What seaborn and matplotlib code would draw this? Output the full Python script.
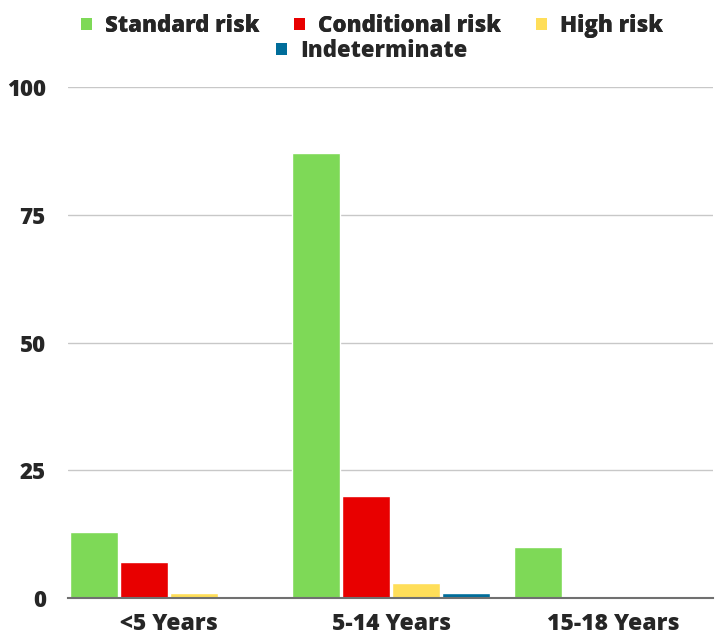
import matplotlib
matplotlib.use("Agg")
import matplotlib.pyplot as plt
import seaborn as sns
import pandas as pd
from matplotlib.patches import Patch

age_groups = ["<5 Years", "5-14 Years", "15-18 Years"]
risk_groups = ["Standard risk", "Conditional risk", "High risk", "Indeterminate"]
standard_risk = [13, 87, 10]
conditional_risk = [7, 20, 0]
high_risk = [1, 3, 0]
indeterminate = [0, 1, 0]
y_ticks = [0, 25, 50, 75, 100]

colors = ["#7ED957", "#E80000", "#FFDE59", "#006D9A"]

rows = []
for series, name in zip([standard_risk, conditional_risk, high_risk, indeterminate], risk_groups):
    for age, v in zip(age_groups, series):
        rows.append({"age": age, "risk": name, "count": v})
df = pd.DataFrame(rows)

sns.set_style("white")
plt.rcParams["font.family"] = ["Open Sans", "DejaVu Sans"]
WEIGHT = 800

fig = plt.figure(figsize=(7.25, 6.35), dpi=100)
ax = fig.add_axes([68 / 725, 1 - 598 / 635, 645 / 725, 511 / 635])

sns.barplot(data=df, x="age", y="count", hue="risk", hue_order=risk_groups,
            palette=colors, width=0.9, gap=0.04, ax=ax, legend=False,
            saturation=1)

ax.set_ylim(0, 100)
ax.set_xlim(-0.455, 2.45)
ax.set_yticks(y_ticks)
ax.set_yticklabels([str(t) for t in y_ticks], fontsize=16, fontweight=WEIGHT)
ax.set_xticks(range(len(age_groups)))
ax.set_xticklabels(age_groups, fontsize=16.5, fontweight=WEIGHT)
ax.tick_params(axis="both", length=0)
ax.tick_params(axis="y", pad=16)
ax.tick_params(axis="x", pad=10)
ax.set_xlabel("")
ax.set_ylabel("")
ax.yaxis.grid(True, color="#C8C8C8", linewidth=1)
ax.set_axisbelow(True)
for s in ["top", "right", "left"]:
    ax.spines[s].set_visible(False)
ax.spines["bottom"].set_color("#707070")
ax.spines["bottom"].set_linewidth(1.5)

handles = [Patch(facecolor=c, edgecolor="none") for c in colors]
legend_font = {"size": 16, "weight": WEIGHT}
legend_x = 372 / 725
leg1 = fig.legend(handles[:3], risk_groups[:3], loc="center", ncol=3,
                  bbox_to_anchor=(legend_x, 1 - 26 / 635), frameon=False,
                  prop=legend_font,
                  handlelength=0.5, handleheight=0.5, handletextpad=0.6,
                  columnspacing=1.55)
leg2 = fig.legend(handles[3:], risk_groups[3:], loc="center", ncol=1,
                  bbox_to_anchor=(legend_x, 1 - 51 / 635), frameon=False,
                  prop=legend_font,
                  handlelength=0.5, handleheight=0.5, handletextpad=0.6)
fig.add_artist(leg1)

fig.savefig("out.png", dpi=100)
